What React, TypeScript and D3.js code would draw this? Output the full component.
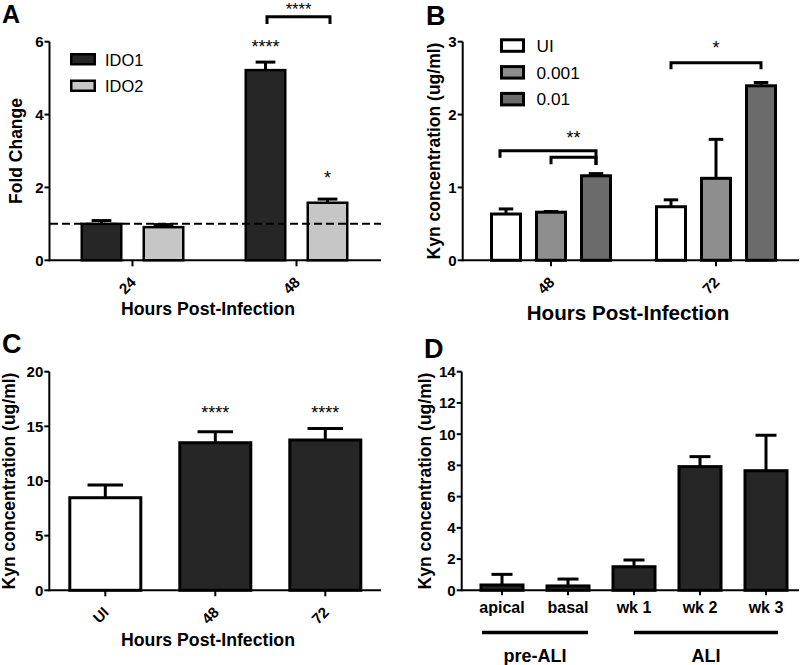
import React from "react";
import * as d3 from "d3";

const FONT = "'Liberation Sans', Arial, Helvetica, sans-serif";

// ---------- Panel A ----------
const A_CATEGORIES = ["24", "48"];
const A_SERIES = ["IDO1", "IDO2"];
const A_IDO1 = [1.0, 5.22];
const A_IDO1_ERR = [0.09, 0.22];
const A_IDO2 = [0.91, 1.58];
const A_IDO2_ERR = [0.07, 0.1];
const A_TICKS = [0, 2, 4, 6];
const A_REFERENCE = 1;
const A_STARS = [
  { cat: "48", series: "IDO1", text: "****", y: 5.7 },
  { cat: "48", series: "IDO2", text: "*", y: 2.09 },
];
const A_BRACKETS = [{ cat: "48", from: "IDO1", to: "IDO2", top: 6.687, legL: 6.486, legR: 6.486, text: "****", textY: 6.735 }];

// ---------- Panel B ----------
const B_CATEGORIES = ["48", "72"];
const B_SERIES = ["UI", "0.001", "0.01"];
const B_UI = [0.635, 0.735];
const B_UI_ERR = [0.07, 0.095];
const B_LOW = [0.66, 1.125];
const B_LOW_ERR = [0.01, 0.535];
const B_HIGH = [1.16, 2.395];
const B_HIGH_ERR = [0.03, 0.045];
const B_TICKS = [0, 1, 2, 3];
const B_BRACKETS = [
  { cat: "48", from: "UI", to: "0.01", top: 1.504, legL: 1.408, legR: 1.308, text: "", textY: 0 },
  { cat: "48", from: "0.001", to: "0.01", top: 1.413, legL: 1.317, legR: 1.308, text: "**", textY: 1.59 },
  { cat: "72", from: "UI", to: "0.01", top: 2.712, legL: 2.621, legR: 2.621, text: "*", textY: 2.826 },
];

// ---------- Panel C ----------
const C_CATEGORIES = ["UI", "48", "72"];
const C_VALUES = [8.47, 13.5, 13.75];
const C_ERR = [1.16, 1.0, 1.05];
const C_STARS = ["", "****", "****"];
const C_STAR_Y = 15.64;
const C_TICKS = [0, 5, 10, 15, 20];

// ---------- Panel D ----------
const D_CATEGORIES = ["apical", "basal", "wk 1", "wk 2", "wk 3"];
const D_VALUES = [0.34, 0.28, 1.51, 7.92, 7.66];
const D_ERR = [0.68, 0.44, 0.43, 0.64, 2.27];
const D_GROUPS = ["pre-ALI", "ALI"];
const D_GROUP_FIRST = ["apical", "wk 1"];
const D_GROUP_LAST = ["basal", "wk 3"];
const D_TICKS = [0, 2, 4, 6, 8, 10, 12, 14];

const DARK = "#262626";
const LIGHT = "#c6c6c6";
const MID = "#8e8e8e";
const MIDDARK = "#6b6b6b";

function innerBand(series: string[], step: number, barW: number) {
  const n = series.length;
  const p = 1 - barW / step;
  return d3
    .scaleBand<string>()
    .domain(series)
    .range([(-step * n) / 2, (step * n) / 2])
    .paddingInner(p)
    .paddingOuter(p / 2);
}

function YAxis({ x, y, ticks, label, labelX, fs = 15 }: any) {
  const [d0, d1] = y.domain();
  return (
    <g>
      <line x1={x} x2={x} y1={y(d0) + 1} y2={y(d1)} stroke="#000" strokeWidth={2} />
      {ticks.map((t: number) => (
        <g key={t}>
          <line x1={x - 5} x2={x} y1={y(t)} y2={y(t)} stroke="#000" strokeWidth={2} />
          <text x={x - 6} y={y(t)} dy="0.36em" textAnchor="end" fontSize={fs} fontWeight="bold" fontFamily={FONT}>
            {t}
          </text>
        </g>
      ))}
      <text
        transform={`translate(${labelX},${(y(d0) + y(d1)) / 2}) rotate(-90)`}
        textAnchor="middle"
        fontSize={17.5}
        fontWeight="bold"
        fontFamily={FONT}
      >
        {label}
      </text>
    </g>
  );
}

function XAxis({ x0, x1, y0, centers, labels, rotate = true, labelY, tickLen = 6 }: any) {
  return (
    <g>
      <line x1={x0} x2={x1} y1={y0} y2={y0} stroke="#000" strokeWidth={2} />
      {centers.map((c: number, i: number) => (
        <g key={i}>
          <line x1={c} x2={c} y1={y0} y2={y0 + tickLen} stroke="#000" strokeWidth={2} />
          {rotate ? (
            <text
              transform={`translate(${c + 4.5},${y0 + 23}) rotate(-45)`}
              textAnchor="end"
              fontSize={15}
              fontWeight="bold"
              fontFamily={FONT}
            >
              {labels[i]}
            </text>
          ) : (
            <text x={c} y={labelY} textAnchor="middle" fontSize={16} fontWeight="bold" fontFamily={FONT}>
              {labels[i]}
            </text>
          )}
        </g>
      ))}
    </g>
  );
}

function Bar({ cx, w, y, v, e, fill, sw = 2.5 }: any) {
  const y0 = y(0);
  const yt = y(v);
  const ye = y(v + e);
  return (
    <g>
      <line x1={cx} x2={cx} y1={yt} y2={ye} stroke="#000" strokeWidth={3} />
      <line x1={cx - w / 4} x2={cx + w / 4} y1={ye} y2={ye} stroke="#000" strokeWidth={3} />
      <rect x={cx - w / 2} y={yt} width={w} height={y0 - yt} fill={fill} stroke="#000" strokeWidth={sw} />
    </g>
  );
}

function Bracket({ xl, xr, y, b, textX, fs = 18 }: any) {
  return (
    <g>
      <path
        d={`M${xl},${y(b.legL)} L${xl},${y(b.top)} L${xr},${y(b.top)} L${xr},${y(b.legR)}`}
        fill="none"
        stroke="#000"
        strokeWidth={3}
      />
      {b.text && (
        <text x={textX} y={y(b.textY)} textAnchor="middle" fontSize={fs} fontFamily={FONT}>
          {b.text}
        </text>
      )}
    </g>
  );
}

function PanelA() {
  const x = d3.scaleBand<string>().domain(A_CATEGORIES).range([50.5, 378.5]);
  const inner = innerBand(A_SERIES, 62, 39.5);
  const y = d3.scaleLinear().domain([0, 6]).range([260.3, 41.7]);
  const c = (cat: string) => (x(cat) as number) + x.bandwidth() / 2;
  const bc = (cat: string, s: string) => c(cat) + (inner(s) as number) + inner.bandwidth() / 2;
  const vals: any = { IDO1: [A_IDO1, A_IDO1_ERR, DARK], IDO2: [A_IDO2, A_IDO2_ERR, LIGHT] };
  return (
    <g>
      <text x={2} y={23} fontSize={25} fontWeight="bold" fontFamily={FONT}>A</text>
      {A_CATEGORIES.map((cat, i) =>
        A_SERIES.map((s) => (
          <Bar key={cat + s} cx={bc(cat, s)} w={inner.bandwidth()} y={y} v={vals[s][0][i]} e={vals[s][1][i]} fill={vals[s][2]} />
        ))
      )}
      <line x1={50} x2={381} y1={y(A_REFERENCE)} y2={y(A_REFERENCE)} stroke="#000" strokeWidth={2} strokeDasharray="8,4" />
      <YAxis x={49.5} y={y} ticks={A_TICKS} label="Fold Change" labelX={22} />
      <XAxis x0={49.5} x1={381} y0={y(0)} centers={A_CATEGORIES.map(c)} labels={A_CATEGORIES} />
      <text x={208} y={315} textAnchor="middle" fontSize={17.7} fontWeight="bold" fontFamily={FONT}>
        Hours Post-Infection
      </text>
      {A_STARS.map((s, i) => (
        <text key={i} x={bc(s.cat, s.series)} y={y(s.y)} textAnchor="middle" fontSize={18} fontFamily={FONT}>
          {s.text}
        </text>
      ))}
      {A_BRACKETS.map((b, i) => {
        const xl = bc(b.cat, b.from) + 1.5;
        const xr = bc(b.cat, b.to) + 2.5;
        return <Bracket key={i} xl={xl} xr={xr} y={y} b={b} textX={(xl + xr) / 2} fs={16.5} />;
      })}
      {A_SERIES.map((s, i) => (
        <g key={s}>
          <rect x={71.25} y={54.25 + i * 26.5} width={23.5} height={10} fill={vals[s][2]} stroke="#000" strokeWidth={2.5} />
          <text x={105} y={65.5 + i * 26.5} fontSize={16.4} fontFamily={FONT}>{s}</text>
        </g>
      ))}
    </g>
  );
}

function PanelB() {
  const x = d3.scaleBand<string>().domain(B_CATEGORIES).range([468.5, 798.5]);
  const inner = innerBand(B_SERIES, 45, 29);
  const y = d3.scaleLinear().domain([0, 3]).range([260.3, 41.7]);
  const c = (cat: string) => (x(cat) as number) + x.bandwidth() / 2;
  const bc = (cat: string, s: string) => c(cat) + (inner(s) as number) + inner.bandwidth() / 2;
  const vals: any = {
    UI: [B_UI, B_UI_ERR, "#ffffff"],
    "0.001": [B_LOW, B_LOW_ERR, MID],
    "0.01": [B_HIGH, B_HIGH_ERR, MIDDARK],
  };
  return (
    <g>
      <text x={426} y={25} fontSize={27} fontWeight="bold" fontFamily={FONT}>B</text>
      {B_CATEGORIES.map((cat, i) =>
        B_SERIES.map((s) => (
          <Bar key={cat + s} cx={bc(cat, s)} w={inner.bandwidth()} y={y} v={vals[s][0][i]} e={vals[s][1][i]} fill={vals[s][2]} sw={3} />
        ))
      )}
      <YAxis x={462.7} y={y} ticks={B_TICKS} label="Kyn concentration (ug/ml)" labelX={440} />
      <XAxis x0={462.7} x1={799} y0={y(0)} centers={B_CATEGORIES.map(c)} labels={B_CATEGORIES} />
      <text x={628} y={320} textAnchor="middle" fontSize={20.6} fontWeight="bold" fontFamily={FONT}>
        Hours Post-Infection
      </text>
      {B_BRACKETS.map((b, i) => {
        const xl = bc(b.cat, b.from) - (i === 0 ? 6 : 0);
        const xr = bc(b.cat, b.to);
        return <Bracket key={i} xl={xl} xr={xr} y={y} b={b} textX={(xl + xr) / 2} />;
      })}
      {B_SERIES.map((s, i) => (
        <g key={s}>
          <rect x={501.5} y={39.8 + i * 26.8} width={22} height={11.5} fill={vals[s][2]} stroke="#000" strokeWidth={3} />
          <text x={536.5} y={51.8 + i * 26.8} fontSize={17.3} fontFamily={FONT}>{s}</text>
        </g>
      ))}
    </g>
  );
}

function PanelC() {
  const p = 1 - 71 / 110;
  const x = d3.scaleBand<string>().domain(C_CATEGORIES).range([50.3, 380.3]).paddingInner(p).paddingOuter(p / 2);
  const y = d3.scaleLinear().domain([0, 20]).range([590.3, 371.7]);
  const c = (cat: string) => (x(cat) as number) + x.bandwidth() / 2;
  return (
    <g>
      <text x={2} y={353} fontSize={27} fontWeight="bold" fontFamily={FONT}>C</text>
      {C_CATEGORIES.map((cat, i) => (
        <Bar key={cat} cx={c(cat)} w={x.bandwidth()} y={y} v={C_VALUES[i]} e={C_ERR[i]} fill={i === 0 ? "#ffffff" : DARK} sw={3} />
      ))}
      {C_CATEGORIES.map((cat, i) =>
        C_STARS[i] ? (
          <text key={cat} x={c(cat)} y={y(C_STAR_Y)} textAnchor="middle" fontSize={18} fontFamily={FONT}>
            {C_STARS[i]}
          </text>
        ) : null
      )}
      <YAxis x={49.3} y={y} ticks={C_TICKS} label="Kyn concentration (ug/ml)" labelX={15} />
      <XAxis x0={49.3} x1={381} y0={y(0)} centers={C_CATEGORIES.map(c)} labels={C_CATEGORIES} />
      <text x={208} y={646} textAnchor="middle" fontSize={17.7} fontWeight="bold" fontFamily={FONT}>
        Hours Post-Infection
      </text>
    </g>
  );
}

function PanelD() {
  const p = 1 - 42 / 66;
  const x = d3.scaleBand<string>().domain(D_CATEGORIES).range([469, 799]).paddingInner(p).paddingOuter(p / 2);
  const y = d3.scaleLinear().domain([0, 14]).range([590.3, 371.7]);
  const c = (cat: string) => (x(cat) as number) + x.bandwidth() / 2;
  return (
    <g>
      <text x={424} y={358} fontSize={27} fontWeight="bold" fontFamily={FONT}>D</text>
      {D_CATEGORIES.map((cat, i) => (
        <Bar key={cat} cx={c(cat)} w={x.bandwidth()} y={y} v={D_VALUES[i]} e={D_ERR[i]} fill={DARK} sw={3} />
      ))}
      <YAxis x={461.7} y={y} ticks={D_TICKS} label="Kyn concentration (ug/ml)" labelX={431} />
      <XAxis x0={461.7} x1={799} y0={y(0)} centers={D_CATEGORIES.map(c)} labels={D_CATEGORIES} rotate={false} labelY={612.7} tickLen={5} />
      {D_GROUPS.map((g, i) => {
        const xl = i === 0 ? (x(D_GROUP_FIRST[i]) as number) + 1 : c(D_GROUP_FIRST[i]);
        const xr = i === 0 ? (x(D_GROUP_LAST[i]) as number) + x.bandwidth() - 1 : c(D_GROUP_LAST[i]) + 12;
        return (
          <g key={g}>
            <line x1={xl} x2={xr} y1={632.5} y2={632.5} stroke="#000" strokeWidth={3.5} />
            <text x={(xl + xr) / 2} y={662} textAnchor="middle" fontSize={18} fontWeight="bold" fontFamily={FONT}>
              {g}
            </text>
          </g>
        );
      })}
    </g>
  );
}

export default function App() {
  return (
    <svg
      width={800}
      height={665}
      viewBox="0 0 800 665"
      style={{ position: "absolute", left: 0, top: 0, background: "#fff" }}
    >
      <rect x={0} y={0} width={800} height={665} fill="#fff" />
      <PanelA />
      <PanelB />
      <PanelC />
      <PanelD />
    </svg>
  );
}
